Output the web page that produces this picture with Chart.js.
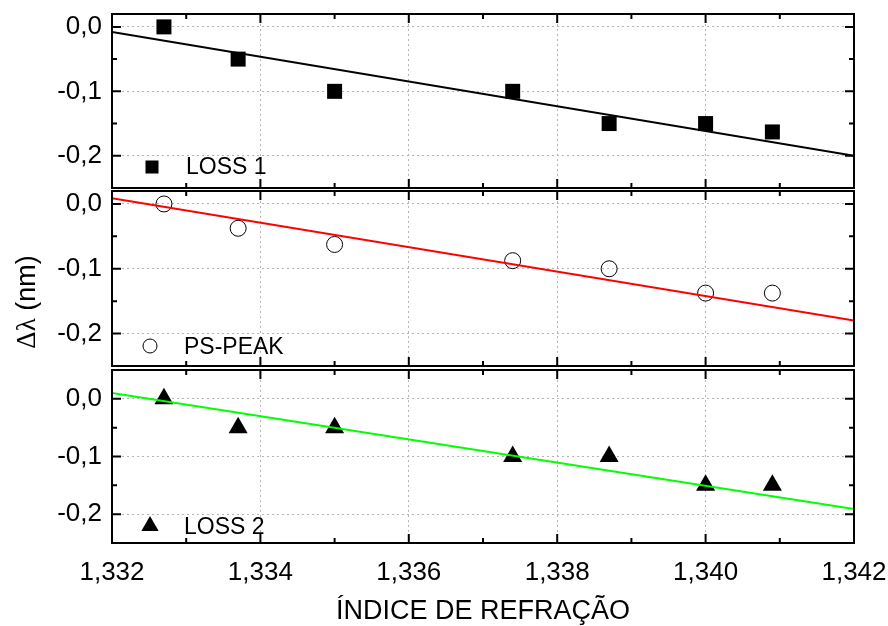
<!DOCTYPE html>
<html>
<head>
<meta charset="utf-8">
<script src="https://cdn.jsdelivr.net/npm/chart.js@4.4.1/dist/chart.umd.min.js"></script>
<style>
    html, body { margin: 0; padding: 0; background: #fff; }
    #contenedor { position: relative; width: 888px; height: 626px; }
    #contenedor canvas { position: absolute; left: 0; top: 0; }
</style>
</head>
<body>
<div id="contenedor">
    <canvas id="grafico1" width="888" height="626"></canvas>
    <canvas id="grafico2" width="888" height="626"></canvas>
    <canvas id="grafico3" width="888" height="626"></canvas>
</div>
<script>
// datos
const indices = [1.3327, 1.3337, 1.3350, 1.3374, 1.3387, 1.3400, 1.3409];
const loss1 = [0.0, -0.05, -0.10, -0.10, -0.15, -0.15, -0.163];
const psPeak = [0.0, -0.0375, -0.0625, -0.0875, -0.10, -0.1375, -0.1375];
const loss2 = [0.0, -0.05, -0.05, -0.10, -0.10, -0.15, -0.15];

const ajusteX = [1.332, 1.342];
const ajusteLoss1 = [-0.008, -0.200];
const ajustePsPeak = [0.009, -0.180];
const ajusteLoss2 = [0.010, -0.191];

const ticksX = [1.332, 1.334, 1.336, 1.338, 1.340, 1.342];
const etiquetasX = ['1,332', '1,334', '1,336', '1,338', '1,340', '1,342'];
const menoresX = [1.333, 1.335, 1.337, 1.339, 1.341];
const ticksY = [0.0, -0.1, -0.2];
const etiquetasY = ['0,0', '-0,1', '-0,2'];
const menoresY = [-0.05, -0.15];

const fuente = "'Liberation Sans', Arial, sans-serif";
const colorRejilla = '#b4b4b4';

const puntos = (xs, ys) => xs.map((v, i) => ({ x: v, y: ys[i] }));

// marco con marcas hacia dentro, leyenda y titulo del eje y
const marco = {
    id: 'marco',
    afterDraw(chart, args, opts) {
        const { ctx, chartArea: a, scales: { x, y } } = chart;
        ctx.save();
        ctx.setLineDash([]);
        ctx.strokeStyle = '#000';
        ctx.lineWidth = 2;
        ctx.strokeRect(a.left, a.top, a.right - a.left, a.bottom - a.top);

        ctx.beginPath();
        const marcaX = (v, largo) => {
            const px = x.getPixelForValue(v);
            ctx.moveTo(px, a.top); ctx.lineTo(px, a.top + largo);
            ctx.moveTo(px, a.bottom); ctx.lineTo(px, a.bottom - largo);
        };
        const marcaY = (v, largo) => {
            const py = y.getPixelForValue(v);
            ctx.moveTo(a.left, py); ctx.lineTo(a.left + largo, py);
            ctx.moveTo(a.right, py); ctx.lineTo(a.right - largo, py);
        };
        ticksX.forEach(v => marcaX(v, 9));
        menoresX.forEach(v => marcaX(v, 5));
        ticksY.forEach(v => marcaY(v, 9));
        menoresY.forEach(v => marcaY(v, 5));
        ctx.stroke();

        const ley = opts.leyenda;
        if (ley) {
            const px = a.left + ley.dx;
            const py = a.bottom - ley.dy;
            ctx.fillStyle = ley.relleno;
            ctx.strokeStyle = '#000';
            ctx.lineWidth = 1;
            Chart.helpers.drawPoint(ctx, { pointStyle: ley.estilo, radius: ley.radio, borderWidth: ley.borde, rotation: 0 }, px, py);
            ctx.fillStyle = '#000';
            ctx.font = '23px ' + fuente;
            ctx.textAlign = 'left';
            ctx.textBaseline = 'alphabetic';
            ctx.fillText(ley.texto, px + 34, a.bottom - ley.base);
        }

        if (opts.tituloY) {
            const fSerif = "27px 'Liberation Serif', 'Times New Roman', serif";
            const fSans = '27px ' + fuente;
            ctx.font = fSerif;
            const w1 = ctx.measureText('Δλ').width;
            ctx.font = fSans;
            const w2 = ctx.measureText(' (nm)').width;
            ctx.translate(28, 302);
            ctx.rotate(-Math.PI / 2);
            ctx.fillStyle = '#000';
            ctx.textAlign = 'left';
            ctx.textBaseline = 'middle';
            const inicio = -(w1 + w2) / 2;
            ctx.font = fSerif;
            ctx.fillText('Δλ', inicio, 0);
            ctx.font = fSans;
            ctx.fillText(' (nm)', inicio + w1, 0);
        }
        ctx.restore();
    }
};

const crearPanel = (id, cfg) => {
    const ultimo = !!cfg.ultimo;
    return new Chart(document.getElementById(id).getContext('2d'), {
        type: 'scatter',
        data: {
            datasets: [
                {
                    data: puntos(ajusteX, cfg.ajuste),
                    showLine: true,
                    borderColor: cfg.colorAjuste,
                    borderWidth: 2,
                    pointRadius: 0,
                    fill: false,
                    order: 0
                },
                {
                    data: puntos(indices, cfg.datos),
                    pointStyle: cfg.estilo,
                    pointRadius: cfg.radio,
                    pointHoverRadius: cfg.radio,
                    backgroundColor: cfg.relleno,
                    borderColor: '#000',
                    borderWidth: cfg.borde,
                    order: 1
                }
            ]
        },
        options: {
            responsive: false,
            animation: false,
            devicePixelRatio: 1,
            layout: { padding: { top: cfg.arriba, bottom: cfg.abajo, left: 0, right: 34 } },
            plugins: {
                legend: { display: false },
                tooltip: { enabled: false },
                marco: { leyenda: cfg.leyenda, tituloY: cfg.tituloY }
            },
            scales: {
                x: {
                    type: 'linear',
                    min: 1.332,
                    max: 1.342,
                    afterBuildTicks: s => { s.ticks = ticksX.map(v => ({ value: v })); },
                    afterFit: s => {
                        s.height = ultimo ? 83 : 0;
                        s.paddingLeft = 0; s.paddingRight = 0;
                        s.paddingTop = 0; s.paddingBottom = 0;
                    },
                    grid: { color: colorRejilla, lineWidth: 1, drawTicks: false },
                    border: { display: false, dash: [2, 3] },
                    ticks: {
                        display: ultimo,
                        padding: 14,
                        color: '#000',
                        maxRotation: 0,
                        autoSkip: false,
                        font: { family: fuente, size: 26 },
                        callback: (v, i) => etiquetasX[i]
                    },
                    title: {
                        display: ultimo,
                        text: 'ÍNDICE DE REFRAÇÃO',
                        color: '#000',
                        font: { family: fuente, size: 27, lineHeight: 1 },
                        padding: { top: 0, bottom: 1 }
                    }
                },
                y: {
                    min: cfg.min,
                    max: cfg.max,
                    afterBuildTicks: s => { s.ticks = ticksY.map(v => ({ value: v })); },
                    afterFit: s => {
                        s.width = 112;
                        s.paddingLeft = 0; s.paddingRight = 0;
                        s.paddingTop = 0; s.paddingBottom = 0;
                    },
                    grid: { color: colorRejilla, lineWidth: 1, drawTicks: false },
                    border: { display: false, dash: [2, 3] },
                    ticks: {
                        padding: 10,
                        color: '#000',
                        font: { family: fuente, size: 26 },
                        callback: (v, i) => etiquetasY[i]
                    }
                }
            }
        },
        plugins: [marco]
    });
};

crearPanel('grafico1', {
    datos: loss1, ajuste: ajusteLoss1, colorAjuste: '#000000',
    estilo: 'rect', radio: 10.6, relleno: '#000', borde: 0,
    min: -0.25, max: 0.02, arriba: 14, abajo: 438,
    leyenda: { texto: 'LOSS 1', estilo: 'rect', radio: 9.2, relleno: '#000', borde: 0, dx: 40, dy: 21, base: 14 }
});

crearPanel('grafico2', {
    datos: psPeak, ajuste: ajustePsPeak, colorAjuste: '#ff0000',
    estilo: 'circle', radio: 8, relleno: 'rgba(0,0,0,0)', borde: 1,
    min: -0.25, max: 0.02, arriba: 191, abajo: 260,
    tituloY: true,
    leyenda: { texto: 'PS-PEAK', estilo: 'circle', radio: 7, relleno: 'rgba(0,0,0,0)', borde: 1, dx: 38, dy: 20, base: 12 }
});

crearPanel('grafico3', {
    datos: loss2, ajuste: ajusteLoss2, colorAjuste: '#00ff00',
    estilo: 'triangle', radio: 11, relleno: '#000', borde: 0,
    min: -0.25, max: 0.05, arriba: 370, abajo: 0, ultimo: true,
    leyenda: { texto: 'LOSS 2', estilo: 'triangle', radio: 10, relleno: '#000', borde: 0, dx: 38, dy: 17, base: 9 }
});
</script>
</body>
</html>
